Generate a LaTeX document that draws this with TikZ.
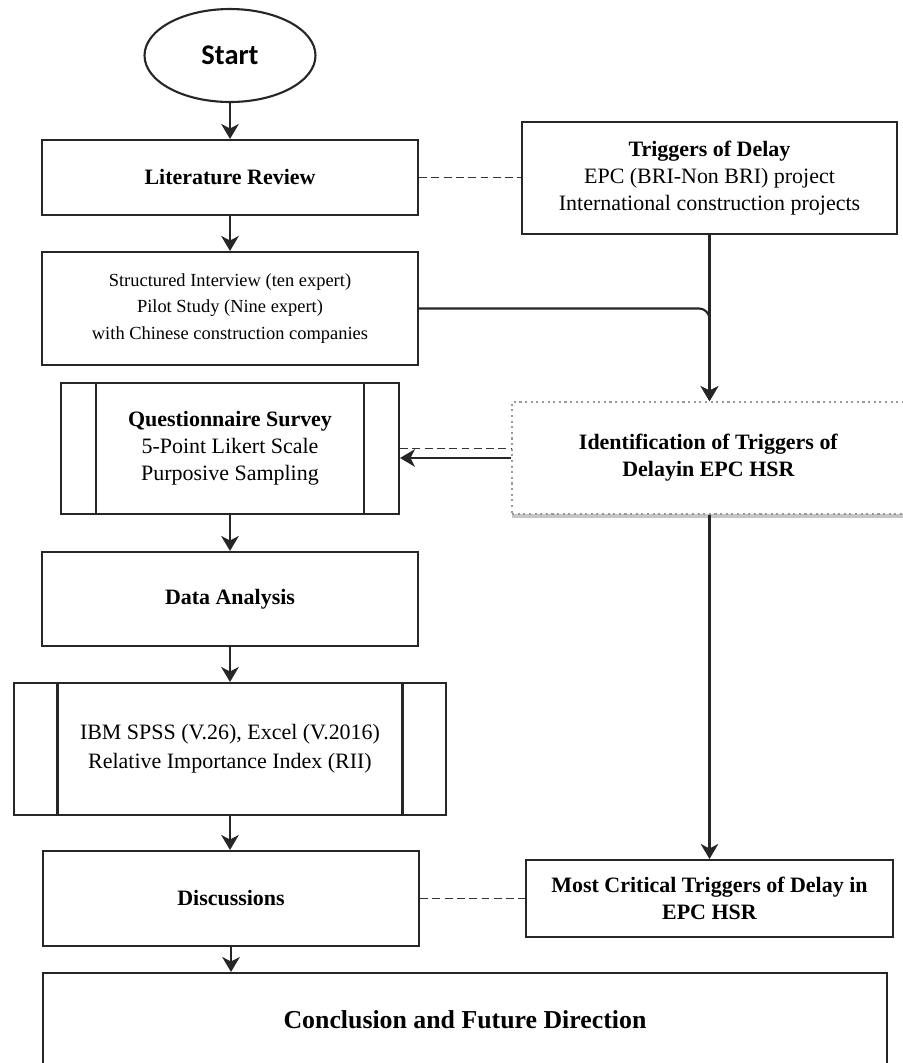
\documentclass[tikz,border=0pt]{standalone}
\usepackage{fontspec}
\setmainfont{Liberation Serif}
\newfontfamily\startfont{Carlito}
\usetikzlibrary{arrows.meta}
\usetikzlibrary{shapes.geometric}
\usetikzlibrary{shadows}

\begin{document}
\begin{tikzpicture}[x=0.02cm,y=-0.02cm,
    box/.style={draw=black!85,line width=1.2pt,fill=white,inner sep=2pt,align=center,
        font=\fontsize{12.5}{15.3}\selectfont},
    subproc/.style={box,path picture={
        \draw[line width=1.2pt,black!85]
            ([xshift=#1]path picture bounding box.north west) -- ([xshift=#1]path picture bounding box.south west)
            ([xshift=-#1]path picture bounding box.north east) -- ([xshift=-#1]path picture bounding box.south east);}},
    arr/.style={-{Stealth[length=8.5pt,width=10pt,inset=2.5pt]},line width=1.2pt,black!85},
    dashline/.style={dash pattern=on 4.5pt off 2.5pt,line width=1pt,black!80}]
    \useasboundingbox (0,0) rectangle (903,1063);
    \clip (0,0) rectangle (903,1063);

    % main column
    \node[ellipse,draw=black!85,line width=1.2pt,minimum width=3.42cm,minimum height=1.86cm,
        font=\startfont\bfseries\fontsize{16.2}{19}\selectfont] (start) at (230,55.5) {Start};
    \node[box,minimum width=7.52cm,minimum height=1.5cm] (litrev) at (230,177.5) {\textbf{Literature Review}};
    \node[box,minimum width=7.52cm,minimum height=2.26cm,font=\fontsize{10.5}{15.3}\selectfont] (interview) at (230,308.5)
        {Structured Interview (ten expert)\\Pilot Study (Nine expert)\\with Chinese construction companies};
    \node[subproc=0.7cm,minimum width=6.76cm,minimum height=2.62cm] (survey) at (230,448.5)
        {\textbf{Questionnaire Survey}\\5-Point Likert Scale\\Purposive Sampling};
    \node[box,minimum width=7.52cm,minimum height=1.88cm] (analysis) at (230,599) {\textbf{Data Analysis}};
    \node[subproc=0.87cm,minimum width=8.64cm,minimum height=2.64cm,font=\fontsize{12.5}{16.4}\selectfont] (software) at (230,749)
        {IBM SPSS (V.26), Excel (V.2016)\\Relative Importance Index (RII)};
    \node[box,minimum width=7.52cm,minimum height=1.9cm] (discuss) at (231,898.5) {\textbf{Discussions}};
    \node[box,minimum width=16.88cm,minimum height=1.88cm,font=\bfseries\fontsize{14.7}{17}\selectfont] (conclusion) at (465,1020)
        {Conclusion and Future Direction};

    % right column
    \node[box,minimum width=7.5cm,minimum height=2.24cm] (triggers) at (709.5,178)
        {\textbf{Triggers of Delay}\\EPC (BRI-Non BRI) project\\International construction projects};
    \node[box,draw=gray!80,line width=1pt,dash pattern=on 1.2pt off 2pt,
        drop shadow={shadow xshift=0pt,shadow yshift=-2.5pt,opacity=0.45},
        minimum width=7.86cm,minimum height=2.24cm] (ident) at (708.5,458)
        {\textbf{Identification of Triggers of}\\\textbf{Delayin EPC HSR}};
    \node[box,minimum width=7.34cm,minimum height=1.54cm] (critical) at (709.5,898.5)
        {\textbf{Most Critical Triggers of Delay in}\\\textbf{EPC HSR}};

    % connectors
    \draw[arr] (start.south) -- (litrev.north);
    \draw[arr] (litrev.south) -- (interview.north);
    \draw[dashline] (litrev.east) -- (litrev.east -| triggers.west);
    \draw[arr,rounded corners=6pt] (interview.east) -- (interview.east -| triggers.south) -- (ident.north -| triggers.south);
    \draw[arr] (triggers.south) -- (ident.north -| triggers.south);
    \draw[dashline] (survey.east) -- (survey.east -| ident.west);
    \draw[arr] (ident.west) -- (ident.west -| survey.east);
    \draw[arr] (survey.south) -- (analysis.north);
    \draw[arr] (analysis.south) -- (software.north);
    \draw[arr] (software.south) -- (software.south |- discuss.north);
    \draw[arr] (discuss.south) -- (discuss.south |- conclusion.north);
    \draw[arr] (critical.north |- ident.south) -- (critical.north);
    \draw[dashline] (discuss.east) -- (critical.west);
\end{tikzpicture}
\end{document}
